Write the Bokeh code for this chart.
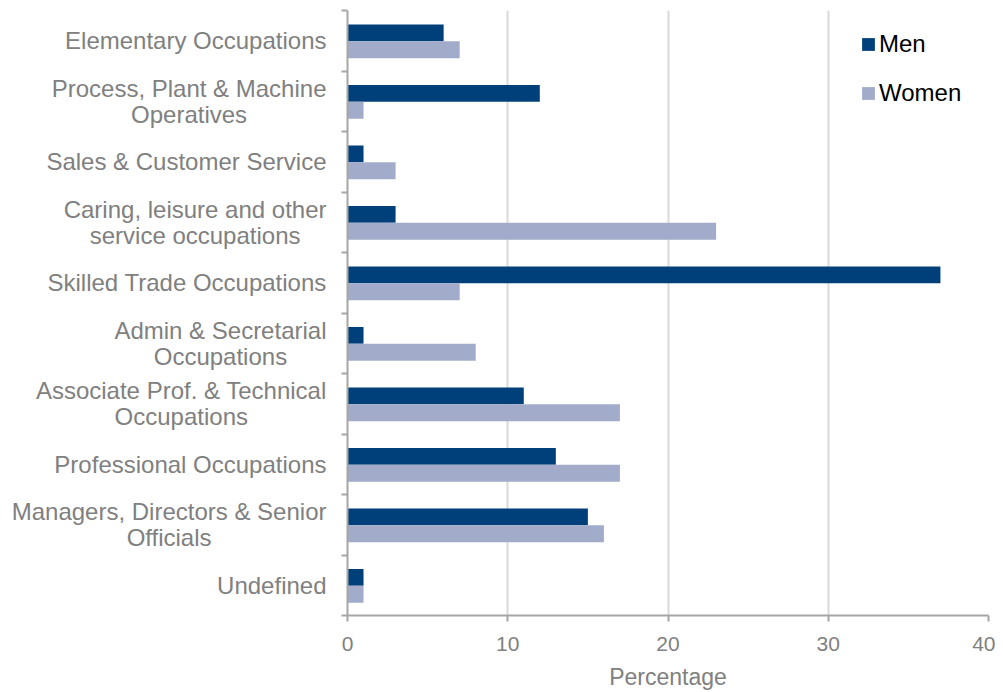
import glob
import subprocess
from bokeh.plotting import figure
from bokeh.layouts import row
from bokeh.models import Range1d, FixedTicker, Legend, LegendItem
from bokeh.core.properties import value
from bokeh.embed import file_html
from bokeh.resources import INLINE

categories = [
    "Undefined",
    "Managers, Directors & Senior\nOfficials",
    "Professional Occupations",
    "Associate Prof. & Technical\nOccupations",
    "Admin & Secretarial\nOccupations",
    "Skilled Trade Occupations",
    "Caring, leisure and other\nservice occupations",
    "Sales & Customer Service",
    "Process, Plant & Machine\nOperatives",
    "Elementary Occupations",
]
men = [1, 15, 13, 11, 1, 37, 3, 1, 12, 6]
women = [1, 16, 17, 17, 8, 7, 23, 3, 1, 7]
x_ticks = [0, 10, 20, 30, 40]
x_title = "Percentage"

MEN_COLOR = "#00407a"
WOMEN_COLOR = "#a2acca"
TEXT_GREY = "#808080"
AXIS_GREY = "#a6a6a6"
FONT = "Liberation Sans"
CAT_SIZE = 24

# layout (pixels)
LABEL_AREA = 347     # distance from the page's left edge to the value 0
AXIS_BORDER = 8      # left border of the bar figure (holds its axis ticks)
PLOT_W = 641         # width of the 0..40 region
HEIGHT = 692
BORDER_TOP = 10
BORDER_BOTTOM = 77
LABEL_GAP = 21       # gap between category labels and the axis line


# ---- text width measurement (for centring multi-line category labels) ----
def _font_path():
    paths = glob.glob("/usr/share/fonts/**/LiberationSans-Regular.ttf", recursive=True)
    if paths:
        return paths[0]
    try:
        out = subprocess.run(["fc-match", "-f", "%{file}", "Liberation Sans"],
                             capture_output=True, text=True, timeout=5).stdout.strip()
        if out:
            return out
    except Exception:
        pass
    return None


def make_measure(size):
    try:
        from PIL import ImageFont
        fp = _font_path()
        if fp:
            f = ImageFont.truetype(fp, size)
            return lambda s: f.getlength(s)
    except Exception:
        pass
    return lambda s: len(s) * size * 0.5


measure_cat = make_measure(CAT_SIZE)

n = len(categories)
centers = [i + 0.5 for i in range(n)]
boundaries = list(range(n + 1))
bar_h = 0.28
men_y = [c + bar_h / 2 - 0.01 for c in centers]
women_y = [c - bar_h / 2 - 0.01 for c in centers]
y_range = Range1d(0, n)

# ---------------- left panel: category labels ----------------
left_w = LABEL_AREA - AXIS_BORDER
left = figure(width=left_w, height=HEIGHT, output_backend="svg",
              toolbar_location=None, x_axis_location=None, y_axis_location=None,
              x_range=Range1d(0, left_w), y_range=y_range,
              min_border_left=0, min_border_right=0, min_border_top=BORDER_TOP,
              min_border_bottom=BORDER_BOTTOM)
left.outline_line_color = None
left.grid.grid_line_color = None
left.background_fill_color = "white"
left.border_fill_color = "white"

offsets = [-(LABEL_GAP - AXIS_BORDER
             + max(measure_cat(line) for line in lab.split("\n")) / 2)
           for lab in categories]
left.text(x=[left_w] * n, y=centers, text=categories, x_offset=offsets,
          text_align="center", text_baseline="middle",
          text_font=value(FONT), text_font_size=value(f"{CAT_SIZE}px"),
          text_color=TEXT_GREY, text_line_height=0.98)

# ---------------- right panel: the bars ----------------
p = figure(width=AXIS_BORDER + PLOT_W + 7, height=HEIGHT, output_backend="svg",
           toolbar_location=None,
           x_range=Range1d(0, 40), y_range=y_range,
           min_border_left=AXIS_BORDER, min_border_right=7,
           min_border_top=BORDER_TOP, min_border_bottom=BORDER_BOTTOM)
p.outline_line_color = None
p.background_fill_color = "white"
p.border_fill_color = "white"

r_men = p.hbar(y=men_y, right=men, left=0, height=bar_h, fill_color=MEN_COLOR,
               line_color=None)
r_women = p.hbar(y=women_y, right=women, left=0, height=bar_h,
                 fill_color=WOMEN_COLOR, line_color=None)

# category axis: only boundary tick marks (labels are in the left panel)
p.yaxis.ticker = FixedTicker(ticks=boundaries)
p.yaxis.major_label_overrides = {b: "" for b in boundaries}
p.yaxis.major_label_standoff = 0
p.yaxis.major_tick_out = 6
p.yaxis.major_tick_in = 0
p.yaxis.major_tick_line_color = AXIS_GREY
p.yaxis.major_tick_line_width = 2
p.yaxis.minor_tick_line_color = None
p.yaxis.axis_line_color = AXIS_GREY
p.yaxis.axis_line_width = 2

p.xaxis.ticker = FixedTicker(ticks=x_ticks)
p.xaxis.axis_label = x_title
p.xaxis.axis_label_text_font = FONT
p.xaxis.axis_label_text_font_size = "23px"
p.xaxis.axis_label_text_font_style = "normal"
p.xaxis.axis_label_text_color = TEXT_GREY
p.xaxis.axis_label_standoff = 10
p.xaxis.major_label_text_font = FONT
p.xaxis.major_label_text_font_size = "21px"
p.xaxis.major_label_text_color = TEXT_GREY
p.xaxis.major_label_standoff = 15
p.xaxis.axis_line_color = AXIS_GREY
p.xaxis.axis_line_width = 2
p.xaxis.major_tick_line_color = AXIS_GREY
p.xaxis.major_tick_line_width = 2
p.xaxis.major_tick_out = 6
p.xaxis.major_tick_in = 0
p.xaxis.minor_tick_line_color = None

p.xgrid.ticker = FixedTicker(ticks=x_ticks[1:])
p.xgrid.grid_line_color = "#d9d9d9"
p.xgrid.grid_line_width = 2
p.ygrid.grid_line_color = None

legend = Legend(items=[LegendItem(label="Men", renderers=[r_men]),
                       LegendItem(label="Women", renderers=[r_women])],
                location=(513, 508), orientation="vertical")
legend.label_text_font = FONT
legend.label_text_font_size = "24px"
legend.label_text_color = "#000000"
legend.glyph_width = 16
legend.glyph_height = 16
legend.label_height = 24
legend.label_standoff = 3
legend.spacing = 21
legend.padding = 0
legend.margin = 0
legend.border_line_color = None
legend.background_fill_alpha = 0
p.add_layout(legend)

layout = row(left, p, spacing=0)
open("out.html", "w").write(file_html(layout, INLINE))
